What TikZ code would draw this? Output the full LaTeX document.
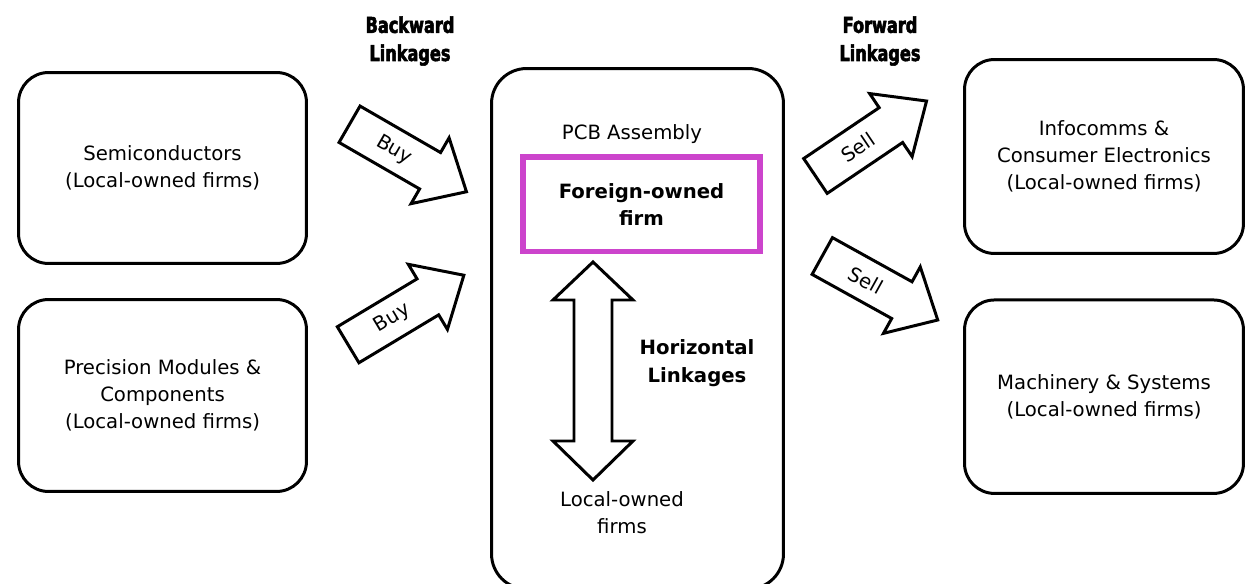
\documentclass[tikz,border=0pt]{standalone}
\usepackage{fontspec}
\setmainfont{DejaVu Sans}
\newfontfamily\heavyfont{DejaVu Sans}[FakeStretch=0.74,BoldFeatures={FakeBold=2.5}]
\usetikzlibrary{positioning}
\definecolor{firmpink}{RGB}{204,68,204}

\begin{document}
\begin{tikzpicture}[x=0.02cm, y=-0.02cm, font=\fontsize{11.2}{15.4}\selectfont,
        firmbox/.style={draw, line width=1.7pt, rounded corners=0.6cm, align=center},
        linkarrow/.style={draw, line width=1.7pt, fill=white, line join=miter},
        linktitle/.style={align=center, font={\heavyfont\bfseries\fontsize{12.4}{16}\selectfont}}]
        \useasboundingbox (0,0) rectangle (1245,584);

        % local suppliers
        \node[firmbox, minimum width=5.76cm, minimum height=3.82cm] (semi) at (162.5,168) {Semiconductors\\(Local-owned firms)};
        \node[firmbox, minimum width=5.76cm, minimum height=3.84cm] (prec) at (162.5,395.5) {Precision Modules \&\\Components\\(Local-owned firms)};

        % local customers
        \node[firmbox, minimum width=5.58cm, minimum height=3.88cm] (info) at (1104,156.5) {Infocomms \&\\Consumer Electronics\\(Local-owned firms)};
        \node[firmbox, minimum width=5.58cm, minimum height=3.87cm] (mach) at (1104,396.7) {Machinery \& Systems\\(Local-owned firms)};

        % the assembly cluster
        \node[draw, line width=1.7pt, rounded corners=0.7cm, minimum width=5.84cm, minimum height=10.41cm] (pcb) at (637.5,328.75) {};
        \node (pcbtitle) at (632,134) {PCB Assembly};
        \node[draw=firmpink, line width=3.4pt, minimum width=4.74cm, minimum height=1.89cm, align=center, font={\bfseries\fontsize{11.2}{15.4}\selectfont}] (foreign) at (641.5,204.25) {Foreign-owned\\firm};
        \draw[linkarrow] (593,262) -- (633,300) -- (612,300) -- (612,441) -- (633,441) -- (593,480)
            -- (553,441) -- (574,441) -- (574,300) -- (553,300) -- cycle;
        \node[align=center, font={\bfseries\fontsize{11.2}{16}\selectfont}] (horiz) at (697,363) {Horizontal\\Linkages};
        \node[align=center] (localfirms) at (622,513) {Local-owned\\firms};

        \node[linktitle] (backward) at (410,41) {Backward\\Linkages};
        \node[linktitle] (forward) at (880,41) {Forward\\Linkages};

        % buy arrows
    \begin{scope}[shift={(408,158)}, rotate=-30]
        \draw[linkarrow] (-67.5,-21) -- (25.5,-21) -- (25.5,-38) -- (67.5,0) -- (25.5,38) -- (25.5,21) -- (-67.5,21) -- cycle;
        \node[rotate=-30] (buyup) at (-16,0) {Buy};
    \end{scope}
    \begin{scope}[shift={(406,310)}, rotate=31]
        \draw[linkarrow] (-67.5,-21) -- (25.5,-21) -- (25.5,-38) -- (67.5,0) -- (25.5,38) -- (25.5,21) -- (-67.5,21) -- cycle;
        \node[rotate=31] (buydown) at (-16,0) {Buy};
    \end{scope}

        % sell arrows
    \begin{scope}[shift={(871,138.5)}, rotate=34]
        \draw[linkarrow] (-67,-21) -- (24,-21) -- (24,-38) -- (67,0) -- (24,38) -- (24,21) -- (-67,21) -- cycle;
        \node[rotate=34] (sellup) at (-16,0) {Sell};
    \end{scope}
    \begin{scope}[shift={(880,288)}, rotate=-29]
        \draw[linkarrow] (-66,-21) -- (25,-21) -- (25,-38) -- (66,0) -- (25,38) -- (25,21) -- (-66,21) -- cycle;
        \node[rotate=-29] (selldown) at (-16,0) {Sell};
    \end{scope}
    \end{tikzpicture}
\end{document}
